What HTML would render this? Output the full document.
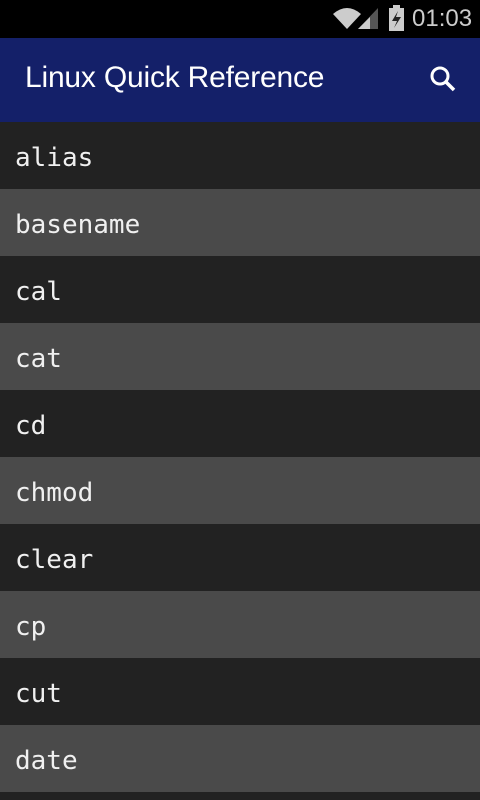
<!DOCTYPE html>
<html><head><style>
html,body{margin:0;width:480px;height:800px;overflow:hidden;background:#222;font-family:"DejaVu Sans Mono","Liberation Mono",monospace;}
.sb{position:absolute;left:0;top:0;width:480px;height:38px;background:#000;}
.ab{position:absolute;left:0;top:38px;width:480px;height:84px;background:#142069;}
.title{position:absolute;left:25px;top:23px;font:30px/34px "Liberation Sans",sans-serif;color:#fff;letter-spacing:-0.2px;}
.row{position:absolute;left:0;width:480px;height:67px;color:#f0f0f0;font-size:26px;line-height:73px;text-indent:15px;overflow:hidden;}
.d{background:#222;}.l{background:#4a4a4a;}
.time{position:absolute;left:412px;top:5px;font:24px "Liberation Sans",sans-serif;color:#ccc;}
</style></head><body>
<div class="sb">
<svg width="480" height="38" style="position:absolute;left:0;top:0">
<path d="M333 14 Q347 2 361 14 L347 29 Z" fill="#ccc"/>
<path d="M358 29 L378 8 L378 29 Z" fill="#555"/>
<path d="M358 29 L370 17 L370 29 Z" fill="#ccc"/>
<rect x="389" y="8" width="15" height="23" fill="#ccc"/><rect x="393" y="5" width="7" height="4" fill="#ccc"/>
<path d="M398 11 L392 21 L397 21 L394 28 L401 17 L396 17 Z" fill="#222"/>
</svg>
<div class="time">01:03</div>
</div>
<div class="ab"><div class="title">Linux Quick Reference</div>
<svg width="30" height="30" style="position:absolute;left:428px;top:26px"><circle cx="12" cy="12" r="8" stroke="#fff" stroke-width="3" fill="none"/><line x1="18" y1="18" x2="26" y2="26" stroke="#fff" stroke-width="3.5"/></svg>
</div>
<div class="row d" style="top:122px">alias</div>
<div class="row l" style="top:189px">basename</div>
<div class="row d" style="top:256px">cal</div>
<div class="row l" style="top:323px">cat</div>
<div class="row d" style="top:390px">cd</div>
<div class="row l" style="top:457px">chmod</div>
<div class="row d" style="top:524px">clear</div>
<div class="row l" style="top:591px">cp</div>
<div class="row d" style="top:658px">cut</div>
<div class="row l" style="top:725px">date</div>
<div class="row d" style="top:792px;height:8px">df</div>
</body></html>
